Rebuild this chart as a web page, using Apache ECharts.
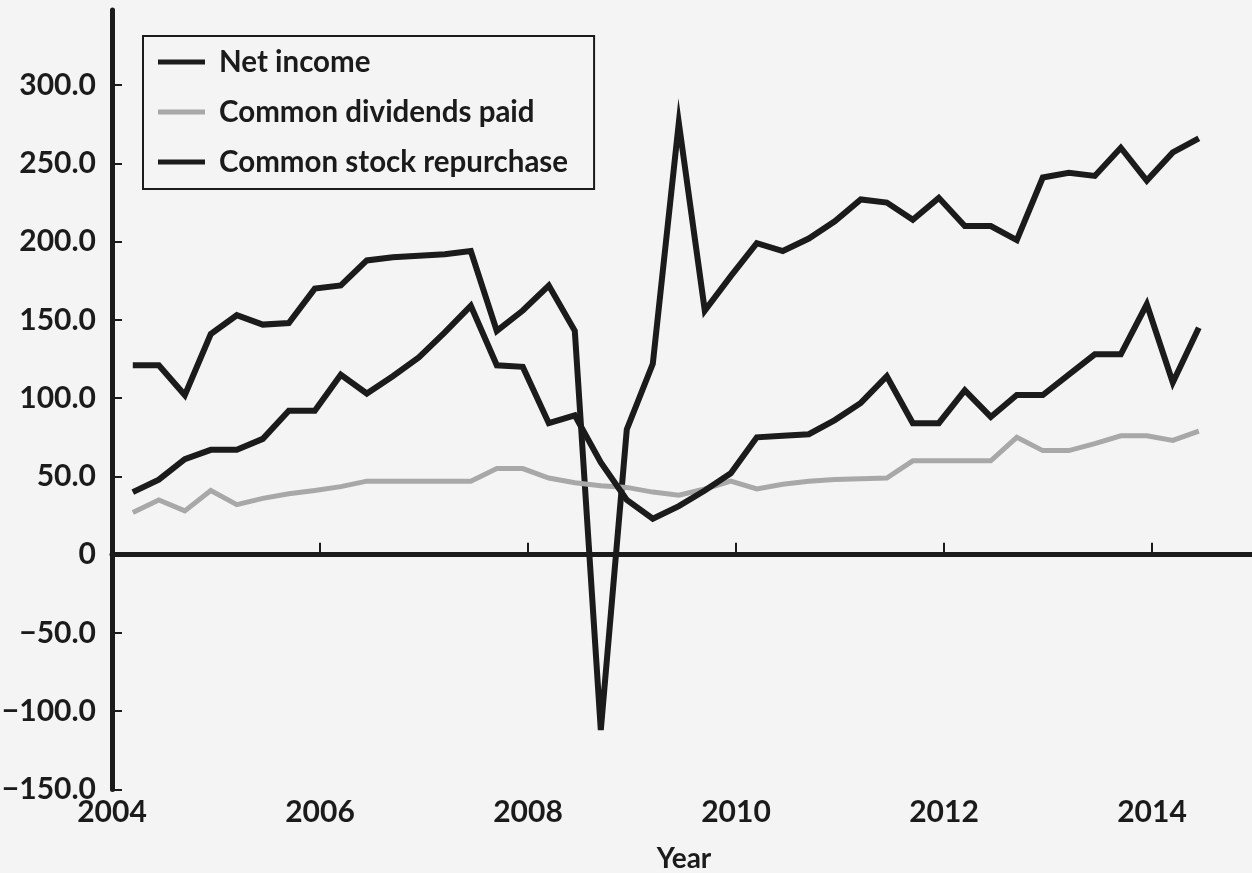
<!DOCTYPE html>
<html>
<head>
<meta charset="utf-8">
<title>Net income, dividends and repurchases</title>
<script src="https://cdn.jsdelivr.net/npm/echarts@6/dist/echarts.min.js"></script>
<style>
    html, body {margin: 0; padding: 0; background: #f4f4f4;}
    #chart {width: 1252px; height: 873px;}
</style>
</head>
<body>
<div id="chart"></div>
<script>
// quarter positions, in decimal years
let years = [
    2004.2, 2004.45, 2004.7, 2004.95, 2005.2, 2005.45, 2005.7, 2005.95,
    2006.2, 2006.45, 2006.7, 2006.95, 2007.2, 2007.45, 2007.7, 2007.95,
    2008.2, 2008.45, 2008.7, 2008.95, 2009.2, 2009.45, 2009.7, 2009.95,
    2010.2, 2010.45, 2010.7, 2010.95, 2011.2, 2011.45, 2011.7, 2011.95,
    2012.2, 2012.45, 2012.7, 2012.95, 2013.2, 2013.45, 2013.7, 2013.95,
    2014.2, 2014.45
];

let netIncome = [
    121, 121, 102, 141, 153, 147, 148, 170,
    172, 188, 190, 191, 192, 194, 143, 156,
    172, 143, -112, 80, 122, 276, 156, 178,
    199, 194, 202, 213, 227, 225, 214, 228,
    210, 210, 201, 241, 244, 242, 260, 239,
    257, 266
];

let dividends = [
    27, 35, 28, 41, 32, 36, 39, 41,
    43.5, 47, 47, 47, 47, 47, 55, 55,
    49, 46, 44, 43, 40, 38, 42, 47,
    42, 45, 47, 48, 48.5, 49, 60, 60,
    60, 60, 75, 66.5, 66.5, 71, 76, 76,
    73, 79
];

let repurchase = [
    40, 48, 61, 67, 67, 74, 92, 92,
    115, 103, 114, 126, 142, 159, 121, 120,
    84, 89, 59, 35, 23, 31, 41, 52,
    75, 76, 77, 86, 97, 114, 84, 84,
    105, 88, 102, 102, 115, 128, 128, 160,
    110, 145
];

let yTicks = [-150, -100, -50, 0, 50, 100, 150, 200, 250, 300];
let xLabels = [2004, 2006, 2008, 2010, 2012, 2014];
let xTicks = [2006, 2008, 2010, 2012, 2014];

let seriesNames = ['Net income', 'Common dividends paid', 'Common stock repurchase'];

function pairs(values) {
    return values.map((v, i) => [years[i], v]);
}

let font = 'Lato';
let ink = '#1b1b1b';
let grey = '#a8a8a8';

let chart = echarts.init(document.getElementById('chart'));

chart.setOption({
    backgroundColor: '#f4f4f4',
    animation: false,
    textStyle: {fontFamily: font},
    grid: {left: 112, right: -4, top: 10, bottom: 83.5, outerBoundsMode: 'none'},
    legend: {
        data: seriesNames,
        orient: 'vertical',
        left: 143,
        top: 36,
        padding: [11, 26, 12, 15],
        itemWidth: 47,
        itemHeight: 5,
        itemGap: 20,
        icon: 'rect',
        borderColor: ink,
        borderWidth: 2,
        textStyle: {
            fontFamily: font,
            fontWeight: 'bold',
            fontSize: 29.5,
            lineHeight: 30,
            color: ink,
            padding: [0, 0, 0, 9]
        }
    },
    xAxis: {
        type: 'value',
        min: 2004,
        max: 2015,
        name: 'Year',
        nameLocation: 'middle',
        nameGap: 55,
        nameTextStyle: {fontFamily: font, fontWeight: 'bold', fontSize: 28, color: ink},
        splitLine: {show: false},
        axisLine: {lineStyle: {color: ink, width: 5}},
        axisTick: {inside: true, length: 12, lineStyle: {color: ink, width: 2}, customValues: xTicks},
        axisLabel: {
            customValues: xLabels,
            margin: 8,
            fontFamily: font,
            fontWeight: 'bold',
            fontSize: 30,
            color: ink,
            formatter: v => String(v)
        }
    },
    yAxis: {
        type: 'value',
        min: -150,
        max: 348,
        splitLine: {show: false},
        axisLine: {show: true, lineStyle: {color: ink, width: 5}},
        axisTick: {show: true, inside: true, length: 10, lineStyle: {color: ink, width: 2}, customValues: yTicks},
        axisLabel: {
            customValues: yTicks,
            margin: 16,
            fontFamily: font,
            fontWeight: 'bold',
            fontSize: 30,
            color: ink,
            formatter: v => v === 0 ? '0' : (v < 0 ? '\u2212' + Math.abs(v).toFixed(1) : v.toFixed(1))
        }
    },
    series: [
        {
            name: seriesNames[0],
            type: 'line',
            data: pairs(netIncome),
            showSymbol: false,
            color: ink,
            lineStyle: {color: ink, width: 6, join: 'miter'},
            markLine: {
                silent: true,
                symbol: ['none', 'none'],
                label: {show: false},
                lineStyle: {color: ink, width: 2, type: 'solid'},
                data: [{yAxis: 0}]
            }
        },
        {
            name: seriesNames[1],
            type: 'line',
            data: pairs(dividends),
            showSymbol: false,
            color: grey,
            lineStyle: {color: grey, width: 5, join: 'miter'}
        },
        {
            name: seriesNames[2],
            type: 'line',
            data: pairs(repurchase),
            showSymbol: false,
            color: ink,
            lineStyle: {color: ink, width: 6, join: 'miter'}
        }
    ]
});
</script>
</body>
</html>
